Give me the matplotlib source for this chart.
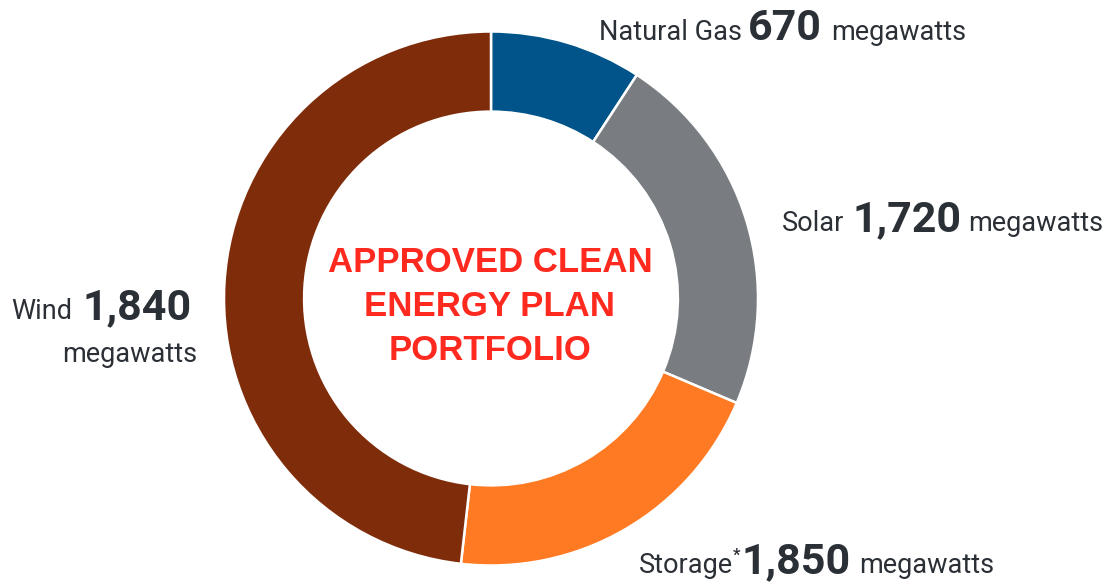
import matplotlib
matplotlib.use("Agg")
import matplotlib.pyplot as plt

# Data
sources = ["Natural Gas", "Solar", "Storage", "Wind"]
megawatts = ["670", "1,720", "1,850", "1,840"]
# wedge shares as drawn in the picture (percent of the ring)
shares = [9.2, 22.2, 20.4, 48.2]
colors = ["#00548a", "#797d81", "#ff7a22", "#7f2c0a"]
center_title = ["APPROVED CLEAN", "ENERGY PLAN", "PORTFOLIO"]

W, H = 1115, 584
fig = plt.figure(figsize=(W / 100, H / 100), dpi=100)
ax = fig.add_axes([0, 0, 1, 1])

# donut
cx, cy, r = 491, H - 298.5, 267
ax.pie(shares, colors=colors, startangle=90, counterclock=False,
       center=(cx, cy), radius=r,
       wedgeprops=dict(width=r * 0.30, edgecolor="white", linewidth=1.8))
ax.set_xlim(0, W)
ax.set_ylim(0, H)
ax.set_aspect("equal")
ax.axis("off")

# title in the hole, one line at a time
for i, line in enumerate(center_title):
    ax.text(490, H - (272 + 44 * i), line, ha="center", va="baseline",
            color="#ff2a1f", fontsize=25, fontweight="bold",
            family=["Liberation Sans", "DejaVu Sans"])

renderer = fig.canvas.get_renderer()
txt_color = "#2b2f36"
REG, BIG = 19.5, 31


def label_line(pieces, x, y, align="left"):
    # pieces: (text, fontsize, weight, raise_px, gap_after_px)
    items = []
    total = 0
    for s, size, weight, dy, gap in pieces:
        t = ax.text(0, H - y + dy, s, fontsize=size, fontweight=weight,
                    color=txt_color, ha="left", va="baseline", family="Roboto")
        w = t.get_window_extent(renderer).width
        items.append((t, w, gap))
        total += w + gap
    total -= items[-1][2]
    pos = x if align == "left" else x - total
    for t, w, gap in items:
        t.set_x(pos)
        pos += w + gap


label_line([(sources[0], REG, "normal", 0, 6),
            (megawatts[0], BIG, "bold", 0, 9),
            ("megawatts", REG, "normal", 0, 0)], 599, 40)
label_line([(sources[1], REG, "normal", 0, 8),
            (megawatts[1], BIG, "bold", 0, 7),
            ("megawatts", REG, "normal", 0, 0)], 782, 231)
label_line([(sources[2], REG, "normal", 0, 0),
            ("*", 12, "bold", 13, 1),
            (megawatts[2], BIG, "bold", 0, 8),
            ("megawatts", REG, "normal", 0, 0)], 639, 573)
label_line([(sources[3], REG, "normal", 0, 11),
            (megawatts[3], BIG, "bold", 0, 0)], 192, 319, align="right")
label_line([("megawatts", REG, "normal", 0, 0)], 197, 362, align="right")

fig.savefig("out.png", dpi=100, facecolor="white")
